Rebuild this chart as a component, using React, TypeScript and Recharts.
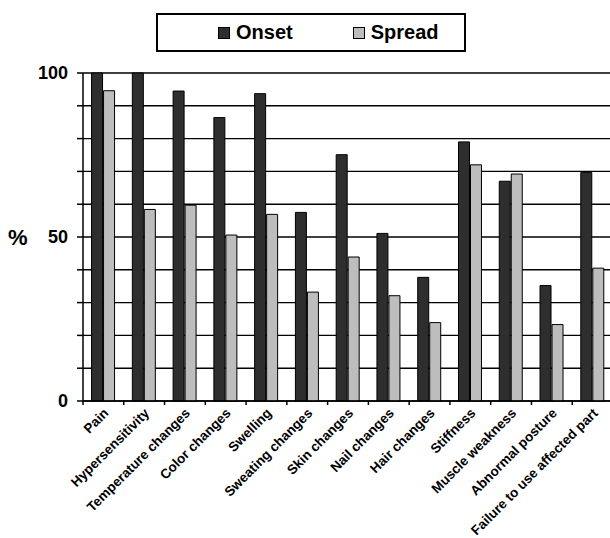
import React from "react";
import {
  BarChart,
  Bar,
  XAxis,
  YAxis,
  CartesianGrid,
  Legend,
} from "recharts";

const categories = [
  "Pain",
  "Hypersensitivity",
  "Temperature changes",
  "Color changes",
  "Swelling",
  "Sweating changes",
  "Skin changes",
  "Nail changes",
  "Hair changes",
  "Stiffness",
  "Muscle weakness",
  "Abnormal posture",
  "Failure to use affected part",
];
const onset = [100, 100, 94.5, 86.4, 93.7, 57.5, 75.1, 51.1, 37.7, 79.0, 67.0, 35.2, 69.7];
const spread = [94.6, 58.4, 59.7, 50.6, 56.9, 33.2, 43.9, 32.1, 23.9, 72.0, 69.2, 23.3, 40.5];
const yTicks = [0, 10, 20, 30, 40, 50, 60, 70, 80, 90, 100];
const yLabels = [0, 50, 100];

const data = categories.map((name, i) => ({ name, onset: onset[i], spread: spread[i] }));

const FONT = "Arial, 'Liberation Sans', sans-serif";
const CHART_W = 614;
const MARGIN = { top: 73, right: 1, bottom: 17, left: 0 };
const Y_WIDTH = 83;
const halfBand = (CHART_W - MARGIN.right - MARGIN.left - Y_WIDTH) / categories.length / 2;

function XTick(props: any) {
  const { x, y, payload, index } = props;
  return (
    <g>
      {index === 0 && (
        <line x1={x - halfBand} x2={x - halfBand} y1={y} y2={y + 4} stroke="#000" strokeWidth={1.5} />
      )}
      <line x1={x + halfBand} x2={x + halfBand} y1={y} y2={y + 4} stroke="#000" strokeWidth={1.5} />
      <text
        x={x + 6}
        y={y + 13}
        textAnchor="end"
        transform={`rotate(-45, ${x + 6}, ${y + 13})`}
        fontFamily={FONT}
        fontWeight="bold"
        fontSize={13.5}
        fill="#000"
      >
        {payload.value}
      </text>
    </g>
  );
}

function LegendBox() {
  const item = (color: string, label: string, gap: number) => (
    <span style={{ display: "inline-flex", alignItems: "center", marginRight: gap }}>
      <span
        style={{
          display: "inline-block",
          width: 10,
          height: 10,
          background: color,
          border: "1.5px solid #000",
          marginRight: 6,
        }}
      />
      {label}
    </span>
  );
  return (
    <div
      style={{
        boxSizing: "border-box",
        width: 310,
        height: 39,
        border: "2px solid #000",
        background: "#fff",
        display: "flex",
        alignItems: "center",
        paddingLeft: 60,
        fontFamily: FONT,
        fontWeight: "bold",
        fontSize: 20,
        color: "#000",
      }}
    >
      {item("#2e2e2e", "Onset", 60)}
      {item("#bdbdbd", "Spread", 0)}
    </div>
  );
}

export default function App() {
  return (
    <div style={{ position: "absolute", left: 0, top: 0, width: 610, height: 538, overflow: "hidden", background: "#fff" }}>
      <BarChart
        width={CHART_W}
        height={538}
        data={data}
        margin={MARGIN}
        barCategoryGap="21%"
        barGap={1}
      >
        <CartesianGrid vertical={false} stroke="#000" strokeWidth={1.4} />
        <XAxis
          dataKey="name"
          interval={0}
          height={120}
          tickSize={0}
          tickMargin={0}
          tick={<XTick />}
          axisLine={{ stroke: "#000", strokeWidth: 1.5 }}
        />
        <YAxis
          domain={[0, 100]}
          ticks={yTicks}
          width={Y_WIDTH}
          tickSize={6}
          tickMargin={9}
          tickFormatter={(v: number) => (yLabels.includes(v) ? String(v) : "")}
          tick={{ fontFamily: FONT, fontWeight: "bold", fontSize: 18, fill: "#000" }}
          axisLine={{ stroke: "#000", strokeWidth: 1.5 }}
          tickLine={{ stroke: "#000", strokeWidth: 1.5 }}
          label={{
            value: "%",
            position: "insideLeft",
            offset: 8,
            fontFamily: FONT,
            fontWeight: "bold",
            fontSize: 22,
            fill: "#000",
          }}
        />
        <Legend
          layout="horizontal"
          verticalAlign="middle"
          align="center"
          wrapperStyle={{ top: 13, left: 156, width: 310 }}
          content={<LegendBox />}
        />
        <Bar dataKey="onset" name="Onset" fill="#2e2e2e" stroke="#000" strokeWidth={1} isAnimationActive={false} />
        <Bar dataKey="spread" name="Spread" fill="#bdbdbd" stroke="#000" strokeWidth={1} isAnimationActive={false} />
      </BarChart>
    </div>
  );
}
